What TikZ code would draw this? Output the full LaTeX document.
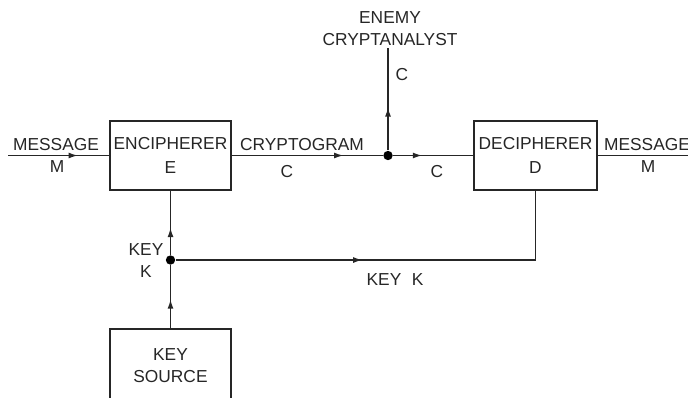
\documentclass[tikz,border=0pt]{standalone}
\usepackage{fontspec}
\setmainfont{Liberation Sans}
\usetikzlibrary{decorations.markings,arrows.meta}
\begin{document}
\begin{tikzpicture}[x=0.75pt,y=-0.75pt,
  line width=1.1pt, draw=black!85,
  every node/.style={font=\fontsize{13}{18}\selectfont, text=black!85, inner sep=0pt},
  blk/.style={draw, line width=1.1pt, minimum width=90.75pt, minimum height=51.75pt, align=center},
  lbl/.style={align=center},
  midarr/.style={postaction={decorate,decoration={markings,mark=at position #1 with {\arrow{Latex[length=7pt,width=4.5pt]}}}}},
  jdot/.style={circle, fill=black, minimum size=7pt, inner sep=0pt}
]
\useasboundingbox (0,0) rectangle (688,397);
\clip (0,0) rectangle (688,397);

% blocks
\node[blk] (enc) at (170.5,155.5) {ENCIPHERER\\E};
\node[blk, minimum width=92.25pt] (dec) at (535.5,155.5) {DECIPHERER\\D};
\node[blk, minimum height=55.5pt, font=\fontsize{13}{16.5}\selectfont] (ks) at (170.5,366) {KEY\\SOURCE};

% junctions
\node[jdot] (j) at (388,155.5) {};
\node[jdot] (kj) at (170.5,260) {};

% enemy
\node[lbl, font=\fontsize{13}{16.5}\selectfont, inner sep=1pt] (enemy) at (390,29) {ENEMY\\CRYPTANALYST};

% free ends
\coordinate (min) at (8,155.5);
\coordinate (mout) at (690,155.5);

% connectors
\draw[midarr=0.69] (min) -- (enc.west);
\draw[midarr=0.74] (enc.east) -- (j);
\draw[midarr=0.36] (j) -- (dec.west);
\draw (dec.east) -- (mout);
\draw[midarr=0.42] (j) -- (j |- enemy.south);
\draw[midarr=0.46] (ks.north) -- (kj);
\draw[midarr=0.42] (kj) -- (enc.south);
\draw[midarr=0.435] (kj) -- (kj -| dec.south) -- (dec.south);

% labels
\node (lmsg) at (56,145) {MESSAGE};
\node (lm) at (57,167) {M};
\node (rmsg) at (647,145) {MESSAGE};
\node (rm) at (648,167) {M};
\node (crypt) at (302,145) {CRYPTOGRAM};
\node (c1) at (287,172) {C};
\node (c2) at (437,172) {C};
\node (c3) at (402,75) {C};
\node[lbl, font=\fontsize{13}{16.5}\selectfont] (kk) at (146,261) {KEY\\K};
\node (keyk) at (395,280) {KEY\hspace{0.6em}K};
\end{tikzpicture}
\end{document}
